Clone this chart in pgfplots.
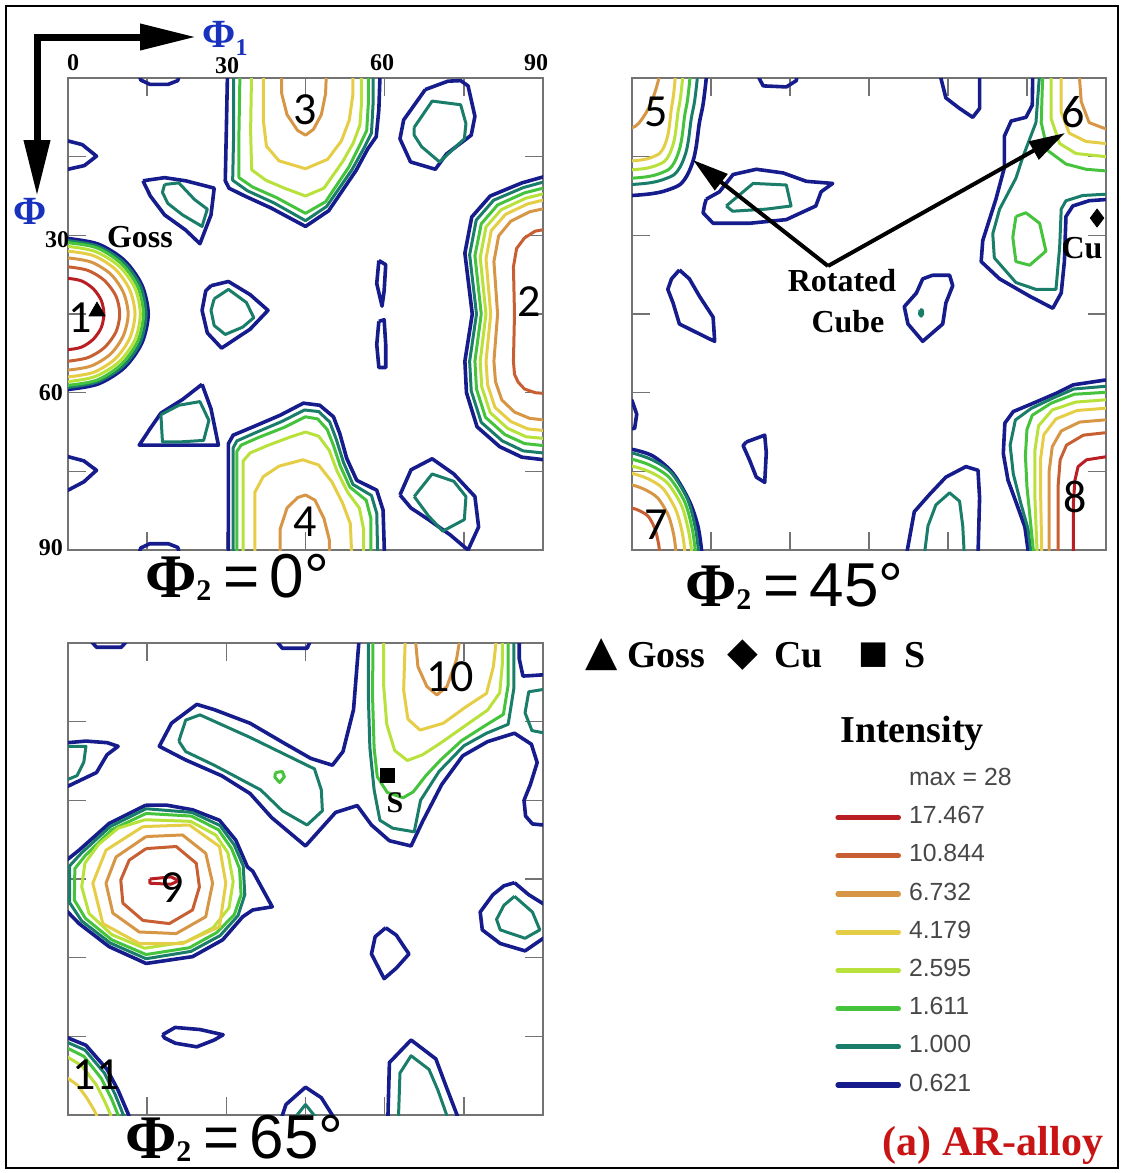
\documentclass[border=0pt]{standalone}
\usepackage{fontspec}
\setmainfont{Liberation Serif}
\setsansfont{Liberation Sans}
\newfontfamily\calib{Carlito}
\newfontfamily\djv{DejaVu Sans}
\usepackage{pgfplots}
\pgfplotsset{compat=1.18}
\usetikzlibrary{arrows.meta}
\definecolor{c1}{RGB}{22,28,140}
\definecolor{c2}{RGB}{25,125,105}
\definecolor{c3}{RGB}{70,195,60}
\definecolor{c4}{RGB}{185,225,60}
\definecolor{c5}{RGB}{230,205,70}
\definecolor{c6}{RGB}{215,150,70}
\definecolor{c7}{RGB}{200,95,50}
\definecolor{c8}{RGB}{185,30,35}
\definecolor{phiblue}{RGB}{25,50,190}
\definecolor{arred}{RGB}{200,20,20}
\tikzset{
 L1/.style={c1, line width=1.8pt, line join=round},
 L2/.style={c2, line width=1.5pt, line join=round},
 L3/.style={c3, line width=1.5pt, line join=round},
 L4/.style={c4, line width=1.5pt, line join=round},
 L5/.style={c5, line width=1.5pt, line join=round},
 L6/.style={c6, line width=1.5pt, line join=round},
 L7/.style={c7, line width=1.5pt, line join=round},
 L8/.style={c8, line width=1.5pt, line join=round},
}
\pgfplotsset{
 odf/.style={scale only axis, height=236pt, xmin=0, xmax=90, ymin=0, ymax=90,
  y dir=reverse, xtick={15,30,45,60,75}, ytick={15,30,45,60,75},
  xticklabels={}, yticklabels={}, tick align=inside, major tick length=9pt,
  axis line style={black!55, line width=0.8pt}, tick style={black!55, line width=0.8pt},
  anchor=north west, clip=true},
}
\newcommand\phitwo[1]{{\fontsize{31}{31}\selectfont\bfseries Φ\raisebox{-1.5pt}{\fontsize{15}{15}\selectfont 2}}\hspace{6pt}{\sffamily\fontsize{31}{31}\selectfont =\hspace{5pt}#1°}}
\newcommand\pk[1]{{\calib\fontsize{23}{23}\selectfont #1}}
\begin{document}
\begin{tikzpicture}
\path (0pt,0pt) rectangle (561.5pt,-586.5pt);
%================ PANEL 1 (phi2 = 0) ================
\begin{axis}[odf, at={(34pt,-39pt)}, width=237.5pt]
% peak 1
\addplot[L1,smooth,tension=0.5] coordinates {(-2,30.6)(0,30.6)(5.8,31.7)(10.7,34.8)(14.0,39.5)(15.2,45)(14.0,50.5)(10.7,55.2)(5.8,58.3)(0,59.4)(-2,59.4)};
\addplot[L2,smooth,tension=0.5] coordinates {(-2,31)(0,31)(5.7,32.1)(10.5,35.1)(13.7,39.6)(14.8,45)(13.7,50.4)(10.5,54.9)(5.7,57.9)(0,59)(-2,59)};
\addplot[L3,smooth,tension=0.5] coordinates {(-2,31.4)(0,31.4)(5.5,32.4)(10.1,35.4)(13.2,39.8)(14.3,45)(13.2,50.2)(10.1,54.6)(5.5,57.6)(0,58.6)(-2,58.6)};
\addplot[L4,smooth,tension=0.5] coordinates {(-2,32.1)(0,32.1)(5.2,33.1)(9.7,35.9)(12.7,40.1)(13.7,45)(12.7,49.9)(9.7,54.1)(5.2,56.9)(0,57.9)(-2,57.9)};
\addplot[L5,smooth,tension=0.5] coordinates {(-2,33)(0,33)(4.9,33.9)(9.0,36.5)(11.7,40.4)(12.7,45)(11.7,49.6)(9.0,53.5)(4.9,56.1)(0,57)(-2,57)};
\addplot[L6,smooth,tension=0.5] coordinates {(-2,34.3)(0,34.3)(4.4,35.1)(8.1,37.4)(10.5,40.9)(11.4,45)(10.5,49.1)(8.1,52.6)(4.4,54.9)(0,55.7)(-2,55.7)};
\addplot[L7,smooth,tension=0.5] coordinates {(-2,36)(0,36)(3.8,36.7)(6.9,38.6)(9.1,41.6)(9.8,45)(9.1,48.4)(6.9,51.4)(3.8,53.3)(0,54)(-2,54)};
\addplot[L8,smooth,tension=0.5] coordinates {(-2,38.2)(0,38.2)(2.6,38.7)(4.8,40.2)(6.3,42.4)(6.8,45)(6.3,47.6)(4.8,49.8)(2.6,51.3)(0,51.8)(-2,51.8)};
% peak 2
\addplot[L1] coordinates {(92,18.3)(86,20)(80,22.5)(76.5,26.5)(75.2,33.4)(76.6,45)(75.2,54)(75.5,60)(77.5,66.5)(81.8,70.3)(86,72.3)(92,73)};
\addplot[L2] coordinates {(92,19.3)(86.25,20.9)(80.65,23.3)(77.35,27.1)(76.1,33.7)(77.4,45)(76.1,54)(76.4,59.65)(78.3,65.65)(82.3,69.2)(86.25,71.1)(92,71.7)};
\addplot[L3] coordinates {(92,20.5)(86.5,21.9)(81.4,24.2)(78.3,27.8)(77.1,33.9)(78.3,45)(77.1,54)(77.4,59.3)(79.1,64.7)(82.8,68.0)(86.5,69.7)(92,70.3)};
\addplot[L4] coordinates {(92,21.6)(86.8,22.9)(82.1,25.1)(79.2,28.4)(78.1,34.2)(79.2,45)(78.1,54)(78.4,58.9)(80.0,63.8)(83.3,66.8)(86.8,68.4)(92,68.9)};
\addplot[L5] coordinates {(92,22.8)(87.1,24.0)(82.9,26.0)(80.2,29.1)(79.2,34.5)(80.1,45)(79.2,54)(79.5,58.5)(80.9,62.8)(83.9,65.5)(87.1,66.9)(92,67.4)};
\addplot[L6] coordinates {(92,24.5)(87.5,25.5)(83.9,27.3)(81.6,30.1)(80.7,35)(81.4,45)(80.7,54)(81,57.9)(82.2,61.4)(84.6,63.7)(87.5,64.9)(92,65.4)};
\addplot[L7] coordinates {(92,28.6)(88.5,29.2)(86.5,30.5)(85,32.5)(84.4,36)(84.6,45)(84.4,54)(84.6,56.5)(85.3,58)(86.5,59.3)(88.5,60)(92,60.3)};
% peak 3
\addplot[L1] coordinates {(30.2,-2)(30.2,0)(30.0,10)(29.8,19.6)(30.5,21.0)(33.5,22.5)(38.5,24.8)(45,28.3)(49.4,25.3)(54.6,17.6)(56.8,13.5)(58.4,11.2)(58.9,6)(59.1,0)(59.1,-2)};
\addplot[L2] coordinates {(31.4,-2)(31.4,10)(31.2,19.5)(34,21.5)(39,23.8)(45,27.2)(49,24.5)(53.8,17.5)(56,13.5)(57.5,10.5)(57.8,5)(57.8,-2)};
\addplot[L3] coordinates {(32.6,-2)(32.4,10)(32.4,19)(35,20.8)(39.5,22.8)(45,25.8)(48.8,23.6)(53.2,17)(55.2,13)(56.6,10)(56.9,5)(56.9,-2)};
\addplot[L4] coordinates {(34.8,-2)(34.6,10)(34.8,17.5)(37.5,19.5)(41,21)(45,22.5)(48.5,21)(52,16)(54,12.5)(55.3,9)(55.6,5)(55.6,-2)};
\addplot[L5] coordinates {(37.0,-2)(37.0,8)(37.6,13)(40,15.8)(45,17.3)(49.2,15.5)(51.8,12)(53.3,8)(54.0,3)(54.0,-2)};
\addplot[L6] coordinates {(40.5,-2)(40.5,3)(41.5,7)(43.5,10)(45,10.9)(46.5,9.8)(48,7)(48.8,3)(49,-2)};
% peak 4
\addplot[L1] coordinates {(30.4,92)(30.4,69.7)(31.3,68.1)(35.1,66.5)(40.2,64.3)(44.6,62.0)(47.7,62.4)(50.3,64.6)(51.5,67.8)(52.8,72.5)(54.7,76.7)(58.5,78.6)(59.7,82.4)(60.0,92)};
\addplot[L2] coordinates {(31.3,92)(31.3,70.5)(32,69.2)(35.6,67.6)(40.5,65.5)(44.8,63.3)(47.5,63.6)(49.6,65.6)(50.8,68.8)(52.2,73.3)(54,77.5)(57.5,79.6)(58.5,83)(58.7,92)};
\addplot[L3] coordinates {(32,92)(32,71.2)(32.8,70)(36.2,68.5)(41,66.6)(45,64.6)(47.3,65)(49.1,67)(50.2,69.8)(51.6,74)(53.4,78)(56.5,80.5)(57.4,84)(57.4,92)};
\addplot[L4] coordinates {(33.2,92)(33.2,73)(34.5,71.5)(38,70)(42,68.5)(45,67.5)(47.5,68.3)(49.5,71)(51,75)(53,79)(55.2,82)(56,86)(56,92)};
\addplot[L5] coordinates {(35.4,92)(35.4,79)(37,76)(40,74)(44.5,72.8)(47.5,73.8)(50,77)(52,81)(53.5,85)(53.8,92)};
\addplot[L6] coordinates {(40.2,92)(40.2,86)(41.5,82)(43.5,80)(45,79.5)(46.8,80.5)(48.5,84)(49.5,88)(49.6,92)};
% small features
\addplot[L1] coordinates {(13.3,-1)(13.8,0.4)(15.5,1.2)(19,1.2)(20.8,0.5)(21.2,-1)};
\addplot[L1] coordinates {(13.3,91)(13.8,89.6)(15.5,88.8)(19,88.8)(20.8,89.5)(21.2,91)};
\addplot[L1] coordinates {(-1,12)(0,12)(2.7,12.7)(5.4,14.9)(3.1,16.7)(0,17.4)(-1,17.4)};
\addplot[L1] coordinates {(-1,72.2)(0,72.2)(3.0,73)(5.4,74.8)(3.0,77)(0,78.6)(-1,78.6)};
\addplot[L1] coordinates {(14.2,19.6)(18.3,19.0)(22.3,19.6)(27.7,21.0)(27.1,26.1)(25.0,31.6)(22.3,29.0)(18.3,26.1)(15.6,22.5)(14.2,19.6)};
\addplot[L2] coordinates {(18.3,20.3)(21.0,20.0)(24.0,23.2)(26.4,25.0)(25.4,28.3)(21.7,26.1)(18.9,23.9)(17.9,21.8)(18.3,20.3)};
\addplot[L1] coordinates {(27.1,39.6)(30.4,38.8)(34.5,41.3)(37.9,44.3)(34.5,47.9)(29.1,51.5)(26.4,48.6)(25.4,44.3)(26.1,40.6)(27.1,39.6)};
\addplot[L2] coordinates {(27.7,42.1)(30.4,40.3)(33.8,42.8)(35.2,45.7)(33.1,47.5)(29.8,48.9)(27.7,47.2)(27.1,44.3)(27.7,42.1)};
\addplot[L1] coordinates {(25.4,58.4)(27.1,63.1)(28.5,70.0)(21.0,70.0)(13.5,70.0)(15.6,66.8)(17.6,63.9)(21.7,61.3)(25.4,58.4)};
\addplot[L2] coordinates {(17.6,64.2)(21.0,62.4)(25.0,61.7)(26.7,65.3)(25.7,69.1)(21.0,69.4)(17.9,69.4)(17.6,64.2)};
\addplot[L1] coordinates {(67.7,2.2)(72,0.6)(74.4,0.5)(75.8,1.5)(77.1,7.3)(76.4,10.9)(71.7,14.5)(69.6,17.4)(64.9,16.0)(62.9,11.6)(63.6,8.0)(67.7,2.2)};
\addplot[L2] coordinates {(65.6,9.4)(69.0,4.4)(74.4,5.1)(75.4,8.7)(75.1,11.6)(70.4,16.0)(67.0,13.1)(65.6,10.9)(65.6,9.4)};
\addplot[L1] coordinates {(62.9,79.5)(65.0,74.7)(69.0,72.6)(73.1,75.5)(77.1,79.8)(77.8,85.6)(75.8,90)(72.4,87.1)(68.3,84.2)(65.0,82.0)(62.9,79.5)};
\addplot[L2] coordinates {(65.6,79.8)(69.0,75.5)(73.1,76.9)(75.4,79.8)(75.1,84.2)(71.0,86.4)(68.3,83.5)(65.6,79.8)};
\addplot[L1] coordinates {(58.9,34.8)(60.2,35.6)(59.9,40.6)(59.5,43.5)(58.5,39.2)(58.9,34.8)};
\addplot[L1] coordinates {(58.9,46.4)(59.9,46.1)(60.2,50.8)(60.2,55.2)(58.9,55.2)(58.5,50.8)(58.9,46.4)};
% Goss
\addplot[only marks, mark=triangle*, mark size=4.6pt, black] coordinates {(5.5,44.5)};
\end{axis}
%================ PANEL 2 (phi2 = 45) ================
\begin{axis}[odf, at={(316pt,-39pt)}, width=237pt]
% peak 5
\addplot[L1,smooth,tension=0.5] coordinates {(14.1,-2)(14.1,0)(13.5,5)(12.8,8.5)(12.2,13)(11.6,15.8)(10.5,18.5)(9.0,20.4)(6,21.6)(3.4,22.1)(0,22.4)(-2,22.4)};
\addplot[L2,smooth,tension=0.5] coordinates {(12.4,-2)(12.4,0)(11.87,4.53)(11.26,7.69)(10.73,11.77)(10.21,14.31)(9.24,16.77)(7.91,18.49)(5.28,19.57)(2.99,20.04)(0,20.3)(-2,20.3)};
\addplot[L3,smooth,tension=0.5] coordinates {(11.0,-2)(11.0,0)(10.53,4.26)(9.99,7.24)(9.52,11.08)(9.05,13.47)(8.2,15.78)(7.02,17.4)(4.69,18.41)(2.65,18.85)(0,19.1)(-2,19.1)};
\addplot[L4,smooth,tension=0.5] coordinates {(9.6,-2)(9.6,0)(9.19,3.90)(8.72,6.63)(8.30,10.15)(7.90,12.34)(7.15,14.46)(6.12,15.94)(4.09,16.87)(2.31,17.27)(0,17.5)(-2,17.5)};
\addplot[L5,smooth,tension=0.5] coordinates {(8.2,-2)(8.2,0)(7.85,3.52)(7.45,5.99)(7.09,9.16)(6.75,11.14)(6.11,13.05)(5.23,14.39)(3.49,15.23)(1.98,15.59)(0,15.8)(-2,15.8)};
\addplot[L6,smooth,tension=0.5] coordinates {(5.1,-2)(5.1,0)(4.1,3.5)(2.8,6.4)(1.3,8.6)(0,9.5)(-2,9.5)};
% peak 6
\addplot[L1] coordinates {(76.1,-1)(76.0,5.2)(74.8,7.5)(72.0,8.2)(70.7,11.1)(70.7,17.1)(69.1,23.1)(66.6,31.0)(66.3,35.0)(69.8,38.3)(75.5,41.6)(79.9,43.9)(81.5,41.0)(82.1,35.0)(82.4,26.4)(83.7,24.4)(86.8,23.4)(91,23.1)};
\addplot[L2] coordinates {(77.4,-1)(76.7,8.5)(74.2,15.1)(72.9,19.1)(69.8,25.0)(68.5,29.7)(68.8,34.3)(72.9,39.0)(76.7,40.3)(80.5,40.3)(81.2,32.3)(81.5,25.0)(82.4,23.4)(85.6,22.4)(91,22.1)};
\addplot[L3] coordinates {(72.9,26.4)(74.8,25.7)(77.4,27.7)(78.6,33.0)(75.5,35.7)(72.9,35.0)(72.3,30.4)(72.9,26.4)};
\addplot[L3] coordinates {(78.0,-1)(77.7,8.5)(78.9,13.8)(82.4,16.4)(86.2,17.4)(91,17.8)};
\addplot[L4] coordinates {(79.6,-1)(79.6,7.8)(81.2,12.5)(84.3,14.4)(91,15.1)};
\addplot[L5] coordinates {(81.5,-1)(81.5,6.5)(83.0,10.5)(86.2,12.1)(91,12.6)};
\addplot[L6] coordinates {(84.9,-1)(85.3,4.5)(86.8,8.5)(91,10.1)};
% peak 7
\addplot[L1,smooth,tension=0.5] coordinates {(-2,70.8)(0,70.8)(4.0,72.1)(7.8,75.4)(10.9,80.7)(12.5,85.4)(13.2,90)(13.2,92)};
\addplot[L2,smooth,tension=0.5] coordinates {(-2,71.5)(0,71.5)(3.8,72.8)(7.4,75.2)(10.5,80.2)(12.0,85.6)(12.6,90)(12.6,92)};
\addplot[L3,smooth,tension=0.5] coordinates {(-2,72.7)(0,72.7)(3.6,73.9)(7.1,76.2)(10.0,80.8)(11.4,85.8)(12.0,90)(12.0,92)};
\addplot[L4,smooth,tension=0.5] coordinates {(-2,74)(0,74)(3.4,75.1)(6.7,77.2)(9.4,81.5)(10.7,86.2)(11.3,90)(11.3,92)};
\addplot[L5,smooth,tension=0.5] coordinates {(-2,75.4)(0,75.4)(3.0,76.4)(5.9,78.3)(8.3,82.3)(9.5,86.5)(10,90)(10,92)};
\addplot[L6,smooth,tension=0.5] coordinates {(-2,77.6)(0,77.6)(2.5,78.5)(4.9,80.1)(6.9,83.4)(7.9,87)(8.3,90)(8.3,92)};
\addplot[L7,smooth,tension=0.5] coordinates {(-2,82)(0,82)(1.6,82.6)(3.1,83.6)(4.3,85.8)(4.9,88.1)(5.2,90)(5.2,92)};
% peak 8
\addplot[L1] coordinates {(92,57.6)(89.8,57.6)(83.8,58.5)(80.6,60.1)(76.2,62.0)(72.4,63.6)(70.8,65.8)(70.5,71.6)(71.4,76.7)(73.0,81.1)(74.6,85.6)(75.2,90)(75.3,92)};
\addplot[L2] coordinates {(92,58.6)(83.9,59.3)(80.0,61.0)(75.8,63.0)(72.8,65.2)(71.8,70)(72.4,75.5)(73.8,81)(75.2,86)(75.7,90)(75.8,92)};
\addplot[L3] coordinates {(92,59.8)(84,60.3)(79.6,62.0)(76.0,64.3)(75.0,67)(74.7,72)(75.0,78)(75.6,84)(76.2,90)(76.3,92)};
\addplot[L4] coordinates {(92,61.2)(84.2,61.8)(79.8,63.3)(77.2,66.3)(76.5,71)(76.5,80)(76.9,90)(77,92)};
\addplot[L5] coordinates {(92,62.8)(84.5,63.4)(80.5,65.0)(78.2,68.0)(77.6,72.5)(77.6,80)(77.8,90)(77.9,92)};
\addplot[L6] coordinates {(92,65.0)(85,65.6)(81.5,67.3)(79.8,70.3)(79.2,75)(79.2,92)};
\addplot[L7] coordinates {(92,67.4)(85.7,68.1)(82.5,70.0)(81.3,72.8)(80.9,77.9)(80.9,92)};
\addplot[L8] coordinates {(92,71.9)(86.3,72.8)(84.7,74.1)(84.1,76.7)(83.8,81.1)(83.8,92)};
% small features
\addplot[L1] coordinates {(23.6,-1)(24.9,1.5)(29.3,1.7)(31.2,0.5)(31.4,-1)};
\addplot[L1] coordinates {(58.4,-1)(59.6,3.8)(62.2,5.8)(64.7,7.5)(66.0,5.8)(66.0,-1)};
\addplot[L1] coordinates {(14.1,23.1)(16.6,21.7)(19.2,18.4)(23.6,17.4)(28.7,18.1)(33.1,19.7)(38.1,20.1)(35.9,21.7)(34.9,24.4)(29.3,27.0)(22.3,27.7)(15.4,27.7)(13.5,25.7)(13.8,24.1)(14.1,23.1)};
\addplot[L2] coordinates {(17.9,24.4)(21.1,21.7)(23.0,20.1)(29.3,20.4)(30.2,24.4)(25.5,25.0)(19.1,25.4)(17.9,24.4)};
\addplot[L1] coordinates {(9.0,36.6)(10.9,38.3)(12.8,41.6)(15.4,45.6)(15.7,50.2)(14.4,49.6)(11.6,48.2)(9.0,46.9)(7.8,42.9)(6.8,40.3)(7.5,38.3)(9.0,36.6)};
\addplot[L1] coordinates {(57.1,37.6)(60.3,37.6)(60.9,39.6)(59.6,42.9)(59.0,46.9)(55.2,50.2)(52.4,46.9)(51.7,43.6)(54.0,41.0)(55.2,38.3)(57.1,37.6)};
\addplot[L2] coordinates {(54.7,44.2)(55.1,44.2)(55.2,45.0)(54.9,45.4)(54.6,45.0)(54.7,44.2)};
\addplot[L1] coordinates {(-1,61)(0,61.5)(0.9,64.1)(0.5,66.8)(-1,67)};
\addplot[L1] coordinates {(21.7,69.4)(25.2,68.1)(25.5,71.4)(25.2,77.1)(23.6,76.1)(22.3,72.8)(21.1,70.1)(21.7,69.4)};
\addplot[L1] coordinates {(52.1,91)(53.6,82.7)(56.5,79.4)(59.6,76.1)(63.4,74.1)(65.7,74.8)(66.0,80.1)(65.7,91)};
\addplot[L2] coordinates {(55.5,91)(56.2,85.4)(57.7,81.4)(60.3,79.1)(62.2,80.7)(62.8,85.4)(63.1,91)};
% Cu
\addplot[only marks, mark=diamond*, mark size=4.5pt, black] coordinates {(88.3,26.7)};
\end{axis}
%================ PANEL 3 (phi2 = 65) ================
\begin{axis}[odf, at={(34pt,-321.5pt)}, width=237.5pt]
% peak 9
\addplot[L1] coordinates {(14.8,30.9)(18.6,30.9)(23.6,31.8)(28.7,33.8)(31.8,37.6)(34.0,42.7)(35.0,43.5)(38.7,50.3)(35.0,50.9)(33.1,52.2)(29.3,56.6)(23.6,59.8)(14.8,61.1)(7.8,57.9)(2.1,53.5)(-1,50.3)(-1,42)(2.1,39.5)(7.8,34.4)(14.8,30.9)};
\addplot[L2] coordinates {(14.8,31.6)(23.5,32.3)(28.8,34.8)(31.5,38.5)(33.2,42.5)(33.5,48.0)(32.2,52.0)(28.8,55.8)(23.3,58.8)(14.8,60.2)(8.0,57.2)(2.6,53.0)(0.3,49.5)(0.3,42.5)(2.6,40.0)(8.0,35.0)(14.8,31.6)};
\addplot[L3] coordinates {(14.8,32.5)(23.4,33.0)(28.5,35.6)(31.0,39.2)(32.5,43.0)(32.8,48.0)(31.5,51.8)(28.2,55.2)(23.0,58.1)(14.8,59.4)(8.3,56.6)(3.3,52.5)(1.2,49.0)(1.3,43.0)(3.3,40.5)(8.3,35.6)(14.8,32.5)};
\addplot[L4] coordinates {(14.6,33.7)(23.2,34.0)(28.0,36.6)(30.3,40.0)(31.3,45.5)(30.5,50.5)(27.5,54.3)(22.3,57.0)(14.5,58.2)(8.3,55.6)(4.0,51.6)(2.6,46.5)(3.2,42.0)(5.8,38.4)(9.5,35.3)(14.6,33.7)};
\addplot[L5] coordinates {(14.2,35.0)(23.0,34.7)(28.7,38.8)(29.9,45.8)(28.7,54.1)(21.7,57.3)(13.5,57.3)(6.6,53.5)(4.7,45.8)(7.2,39.5)(14.2,35.0)};
\addplot[L6] coordinates {(14.8,36.9)(21.7,36.6)(26.1,40.1)(27.4,45.8)(26.1,52.2)(20.5,55.4)(13.5,55.1)(8.5,51.5)(7.2,45.8)(9.1,40.8)(14.8,36.9)};
\addplot[L7] coordinates {(14.8,39.2)(20.5,38.8)(24.3,42.0)(24.9,46.5)(23.6,50.9)(19.2,53.5)(14.2,52.9)(10.4,49.6)(10.0,45.2)(11.6,41.4)(14.8,39.2)};
\addplot[L8] coordinates {(15.5,45.0)(19.5,44.6)(21.0,45.3)(19.5,46.0)(15.5,45.8)(15.5,45.0)};
% peak 10 and connected region
\addplot[L1] coordinates {(55.1,-1)(55.1,0)(54.1,12.7)(52.1,20.7)(50.1,23.3)(46,22)(41.3,19.3)(34.5,15.3)(27.7,12.7)(24.4,11.7)(19.6,15.3)(17.3,19.7)(22.3,22.3)(29.1,25.3)(34.5,28.7)(38.6,33.3)(45,38.7)(50.7,32.3)(54.8,31)(57.5,34.7)(60.9,37.7)(65,38.7)(67.2,34)(70.8,27)(74.8,21.5)(79.5,18.8)(84.6,17.2)(87.8,19.3)(88.9,22.8)(87.6,27)(86.4,30)(86.7,33)(88,34.5)(91,34.8)};
\addplot[L1] coordinates {(85.5,-1)(85.5,3)(86.2,6.3)(88,6.2)(91,6)};
\addplot[L2] coordinates {(91,8.7)(87.3,9.3)(86.6,13.3)(87.9,16.7)(91,17.3)};
\addplot[L2] coordinates {(21,18.7)(22.3,14.7)(25,13.7)(34.5,18)(46.7,24)(48,28)(48.2,32)(45.3,34.7)(40.6,32)(36.5,28)(27.7,23.3)(22.3,20.7)(21,18.7)};
\addplot[L3] coordinates {(39.3,24.7)(40.6,24.5)(41.0,25.5)(40.1,26.6)(39.2,25.6)(39.3,24.7)};
\addplot[L2] coordinates {(56.9,-1)(56.9,10)(57.2,20)(58,28)(59.1,33.8)(61.5,35.3)(65.6,36)(66.8,30)(70.3,24.5)(75,19.6)(79.3,17.2)(83.4,15.5)(84.5,8.5)(84.5,-1)};
\addplot[L3] coordinates {(57.8,-1)(57.7,10)(58.0,20)(58.6,25.5)(60.5,28.5)(63.5,29.5)(65.4,28.4)(67.8,25.3)(70.6,22.3)(74.6,18.6)(78.8,15.9)(82.5,13.6)(83.4,8)(83.4,-1)};
\addplot[L4] coordinates {(59.8,-1)(59.8,8)(60.4,15.5)(61.9,20.5)(64.3,22.4)(67.2,21.3)(71,18.8)(75.5,15.6)(79.5,12.8)(81.8,9.5)(82.3,4)(82.3,-1)};
\addplot[L5] coordinates {(63.9,-1)(63.6,9)(64.4,14.5)(66.7,16.6)(71.1,15.3)(75.5,12.1)(79.3,9.6)(80.6,4.5)(81.2,-1)};
\addplot[L6] coordinates {(65.8,-1)(66.3,4.5)(68.0,8.3)(69.9,9.9)(71.8,8.3)(73.6,3.2)(74.3,-1)};
% peak 11
\addplot[L1] coordinates {(-2,75.3)(0,75.3)(3.4,76.7)(7.4,81.3)(9.5,85.3)(11.5,90)(12,92)};
\addplot[L2] coordinates {(-2,76.2)(0,76.2)(3.2,77.6)(6.9,82)(8.9,86)(10.5,90)(11,92)};
\addplot[L3] coordinates {(-2,77.3)(0,77.3)(3.0,78.8)(6.3,83)(8.2,86.8)(9.5,90)(10,92)};
\addplot[L4] coordinates {(-2,79)(0,79)(2.6,80.6)(5.4,84.3)(7.0,87.5)(8.1,90)(8.5,92)};
\addplot[L5] coordinates {(-2,83)(0,83)(1.8,84.3)(3.6,86.8)(4.8,88.8)(5.4,90)(5.8,92)};
% small features
\addplot[L1] coordinates {(3.8,-1)(5.4,0.8)(10.1,0.8)(11.7,-1)};
\addplot[L1] coordinates {(39,-1)(40.6,1)(45.3,1)(46.2,-1)};
\addplot[L1] coordinates {(-1,19)(0,19)(3.4,18.7)(7.4,19)(9.5,19.7)(7.4,21.3)(5.4,24.7)(2.7,26)(0,27.3)(-1,27.3)};
\addplot[L2] coordinates {(-1,19.7)(3.4,19.7)(3.0,22.7)(1.7,25.3)(0,26)(-1,26)};
\addplot[L1] coordinates {(84.6,45.7)(87.3,48)(90.5,50)(90.5,56)(86.6,58.7)(81.9,57.3)(78.5,54.7)(78.1,51.3)(80.5,48)(82.6,46.3)(84.6,45.7)};
\addplot[L2] coordinates {(84.6,48.3)(88,51.3)(89.4,54.7)(86.6,56.3)(81.9,54.7)(81.2,52.7)(82.6,50)(84.6,48.3)};
\addplot[L1] coordinates {(60.2,54.3)(62.2,55.7)(64.6,59.3)(62.2,62)(59.9,64)(57.5,59.3)(58.2,56)(60.2,54.3)};
\addplot[L1] coordinates {(17.9,74.7)(20.3,73.3)(25,73.7)(29.4,74.7)(27.7,75.7)(24.4,77)(20.3,76.3)(18.3,75.3)(17.9,74.7)};
\addplot[L1] coordinates {(40.3,91)(41.3,88)(45,84.7)(48,86.7)(50.7,91)};
\addplot[L2] coordinates {(42.6,91)(45,88)(47.4,91)};
\addplot[L1] coordinates {(60.6,91)(60.9,80)(65,75.7)(69.7,79.3)(71.7,84.7)(74.1,91)};
\addplot[L2] coordinates {(62.6,91)(62.9,82)(65,78.7)(68.4,81.3)(70.1,85.3)(72.1,91)};
% S
\addplot[only marks, mark=square*, mark size=3.5pt, black] coordinates {(60.6,25.2)};
\end{axis}
%================ LEGEND AXIS ================
\begin{axis}[hide axis, scale only axis, width=100pt, height=100pt, at={(417.5pt,-383.5pt)}, anchor=north west,
  xmin=0, xmax=1, ymin=0, ymax=1,
  legend style={at={(0,1)}, anchor=north west, draw=none, fill=none, inner sep=0pt,
    font=\sffamily\fontsize{12.4}{12.4}\selectfont, text=black!72, row sep=7.1pt,
    nodes={inner sep=0pt, text height=9pt, text depth=3pt},
    /tikz/every odd column/.append style={column sep=4pt}},
  legend cell align=left,
  legend image code/.code={\draw[#1, line width=2.6pt, line cap=round] (1.3pt,0pt) -- (31.5pt,0pt);}]
\addlegendimage{empty legend}\addlegendentry{max = 28}
\addlegendimage{c8}\addlegendentry{17.467}
\addlegendimage{c7}\addlegendentry{10.844}
\addlegendimage{c6}\addlegendentry{6.732}
\addlegendimage{c5}\addlegendentry{4.179}
\addlegendimage{c4}\addlegendentry{2.595}
\addlegendimage{c3}\addlegendentry{1.611}
\addlegendimage{c2}\addlegendentry{1.000}
\addlegendimage{c1}\addlegendentry{0.621}
\end{axis}
%================ TEXT AND ANNOTATIONS ================
\begin{scope}[x=0.5pt, y=-0.5pt]
\draw[line width=1pt] (6,6) rectangle (1118,1168);
\draw[line width=3.5pt, {Triangle[length=28pt,width=12.5pt]}-{Triangle[length=28pt,width=12.5pt]}, line join=miter] (37,196) -- (37,37) -- (196,37);
\node[phiblue] at (225,38) {\fontsize{20}{20}\selectfont\bfseries Φ\raisebox{-4pt}{\fontsize{12}{12}\selectfont 1}};
\node[font=\fontsize{12}{12}\selectfont\bfseries, inner sep=0pt] at (57,240) {30};
\node[phiblue, inner sep=0pt] at (30,211) {\fontsize{20}{20}\selectfont\bfseries Φ};
\node[font=\fontsize{12}{12}\selectfont\bfseries] at (73,63) {0};
\node[font=\fontsize{12}{12}\selectfont\bfseries] at (227,66) {30};
\node[font=\fontsize{12}{12}\selectfont\bfseries] at (382,63) {60};
\node[font=\fontsize{12}{12}\selectfont\bfseries] at (536,63) {90};
\node[font=\fontsize{12}{12}\selectfont\bfseries] at (51,393) {60};
\node[font=\fontsize{12}{12}\selectfont\bfseries] at (51,548) {90};
\node[font=\fontsize{16}{16}\selectfont\bfseries] at (140,237) {Goss};
\node at (80,318) {\pk{1}};
\node at (529,302) {\pk{2}};
\node at (305,110) {\pk{3}};
\node at (305,522) {\pk{4}};
\node at (656,112) {\pk{5}};
\node at (1073,112) {\pk{6}};
\node at (656,525) {\pk{7}};
\node at (1075,497) {\pk{8}};
\node at (172,888) {\pk{9}};
\node at (450,677) {\pk{10}};
\node at (96,1075) {\pk{11}};
\draw[line width=2pt, -{Triangle[length=18pt,width=10pt]}] (828,266) -- (693,160);
\draw[line width=2pt, -{Triangle[length=18pt,width=10pt]}] (828,266) -- (1065,133);
\node[font=\fontsize{16}{16}\selectfont\bfseries] at (842,281) {Rotated};
\node[font=\fontsize{16}{16}\selectfont\bfseries] at (848,322) {Cube};
\node[font=\fontsize{16}{16}\selectfont\bfseries] at (1082,248) {Cu};
\node[font=\fontsize{15}{15}\selectfont\bfseries] at (395,803) {S};
\node[anchor=base west] at (138,597) {\phitwo{0}};
\node[anchor=base west] at (678,606) {\phitwo{45}};
\node[anchor=base west] at (118,1158) {\phitwo{65}};
\node[anchor=west, inner sep=0pt] at (585,655) {\djv\fontsize{21}{21}\selectfont ▲};
\node[anchor=west, inner sep=0pt] at (627,655) {\fontsize{19}{19}\selectfont\bfseries Goss};
\node[anchor=west, inner sep=0pt] at (727,655) {\djv\fontsize{20}{20}\selectfont ◆};
\node[anchor=west, inner sep=0pt] at (774,655) {\fontsize{19}{19}\selectfont\bfseries Cu};
\node[anchor=west, inner sep=0pt] at (858,655) {\djv\fontsize{16}{16}\selectfont ■};
\node[anchor=west, inner sep=0pt] at (904,655) {\fontsize{19}{19}\selectfont\bfseries S};
\node at (912,733) {\fontsize{19}{19}\selectfont\bfseries Intensity};
\node[arred] at (993,1145) {\fontsize{21}{21}\selectfont\bfseries (a) AR-alloy};
\end{scope}
\end{tikzpicture}
\end{document}
